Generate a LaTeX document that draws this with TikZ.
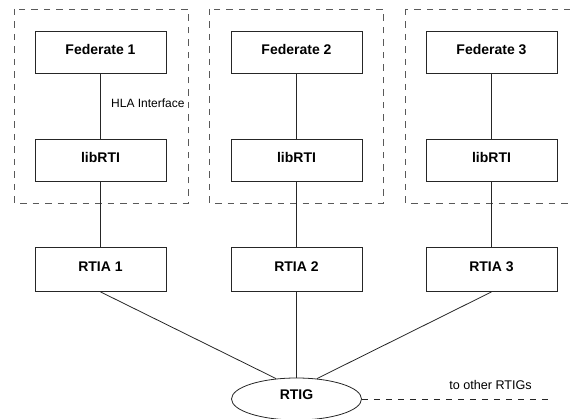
\documentclass[tikz,border=0pt]{standalone}
\usepackage{fontspec}
\setmainfont{Liberation Sans}
\usetikzlibrary{shapes.geometric}
\begin{document}
\begin{tikzpicture}[x=1pt,y=-1pt,
 box/.style={draw=black!85, line width=0.8pt, minimum width=131pt, minimum height=42pt, inner sep=0pt, font=\fontsize{14}{16}\selectfont\bfseries, text height=10pt, text depth=5pt},
 grp/.style={draw=black!65, line width=0.8pt, dash pattern=on 6.5pt off 6pt},
 conn/.style={draw=black!85, line width=0.8pt},
 lbl/.style={font=\fontsize{12}{14}\selectfont, inner sep=0pt}]
\useasboundingbox (0,0) rectangle (570,419);
\clip (0,0) rectangle (570,419);
\draw[grp] (14,9) rectangle (188,203);
\draw[grp] (209,9) rectangle (383,203);
\draw[grp] (405,9) rectangle (600,203);
\node[box] (f1) at (100.5,52) {Federate 1};
\node[box] (f2) at (296.5,52) {Federate 2};
\node[box] (f3) at (491.5,52) {Federate 3};
\node[box] (l1) at (100.5,160.5) {libRTI};
\node[box] (l2) at (296.5,160.5) {libRTI};
\node[box] (l3) at (491.5,160.5) {libRTI};
\node[box, minimum height=44pt] (r1) at (100.5,269.5) {RTIA 1};
\node[box, minimum height=44pt] (r2) at (296.5,269.5) {RTIA 2};
\node[box, minimum height=44pt] (r3) at (491.5,269.5) {RTIA 3};
\node[ellipse, draw=black!85, line width=0.8pt, minimum width=130pt, minimum height=42pt, inner sep=0pt, font=\fontsize{14}{16}\selectfont\bfseries, text height=10pt, text depth=9pt] (rtig) at (296.5,399) {RTIG};
\node[lbl, anchor=west] (hla) at (111,103) {HLA Interface};
\node[lbl, font=\fontsize{12.6}{14}\selectfont] (oth) at (490.5,385) {to other RTIGs};
\coordinate (dend) at (550,399);
\draw[conn] (f1) -- (l1);
\draw[conn] (f2) -- (l2);
\draw[conn] (f3) -- (l3);
\draw[conn] (l1) -- (r1);
\draw[conn] (l2) -- (r2);
\draw[conn] (l3) -- (r3);
\draw[conn] (r1.south) -- (rtig.135);
\draw[conn] (r2.south) -- (rtig.north);
\draw[conn] (r3.south) -- (rtig.45);
\draw[conn, dash pattern=on 6.5pt off 5.5pt] (rtig.east) -- (dend);
\end{tikzpicture}
\end{document}
